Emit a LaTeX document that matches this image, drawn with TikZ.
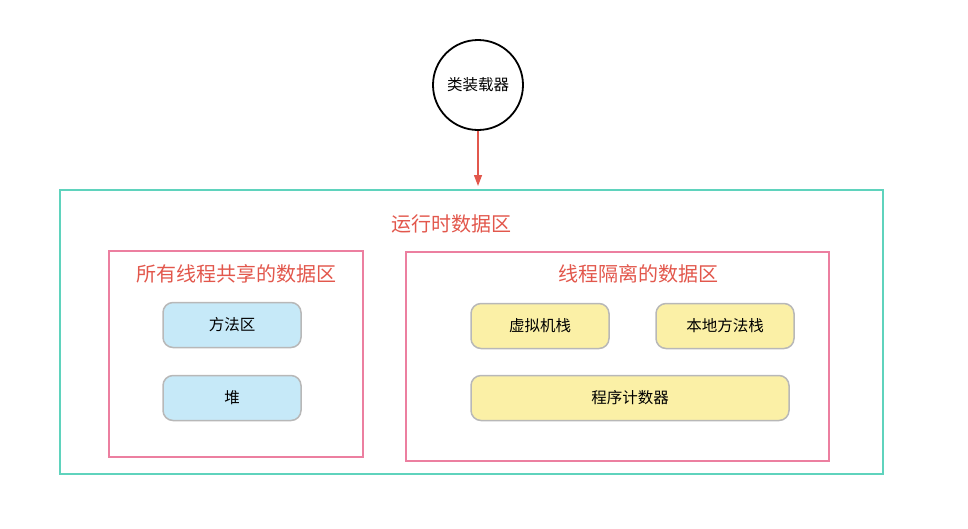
\documentclass[tikz,border=0pt]{standalone}
\usepackage{fontspec}
\newfontfamily\cjk{Noto Sans CJK SC}
\usetikzlibrary{arrows.meta}
\definecolor{teal1}{HTML}{5FD3BD}
\definecolor{pink1}{HTML}{EC7FA0}
\definecolor{red1}{HTML}{E2574C}
\definecolor{blue1}{HTML}{C6E9F8}
\definecolor{yel1}{HTML}{FBF0A6}
\definecolor{gray1}{HTML}{B8B8B8}
\tikzset{
 region/.style={draw=pink1,line width=1.5pt},
 pill/.style={draw=gray1,line width=1.5pt,rounded corners=10pt,font=\cjk\fontsize{15.5}{18}\selectfont},
 ttl/.style={text=red1,font=\cjk\fontsize{20}{23}\selectfont}
}
\begin{document}
\begin{tikzpicture}[x=1pt,y=-1pt]
\useasboundingbox (0,0) rectangle (968,528);
\node[circle,draw,line width=1.8pt,minimum size=90pt,font=\cjk\fontsize{15.5}{18}\selectfont] (cl) at (478,85) {类装载器};
\draw[teal1,line width=1.5pt] (60,190) rectangle (883,474);
\coordinate (top) at (478,186);
\draw[red1,line width=1.3pt,-{Triangle[length=11pt,width=8pt]}] (cl.south) -- (top);
\node[ttl] (t0) at (451,224) {运行时数据区};
\draw[region] (109,251) rectangle (363,457);
\node[ttl] (t1) at (236,274) {所有线程共享的数据区};
\draw[region] (406,252) rectangle (829,461);
\node[ttl] (t2) at (638,274) {线程隔离的数据区};
\node[pill,fill=blue1,minimum width=138pt,minimum height=45pt] (m) at (232,325) {方法区};
\node[pill,fill=blue1,minimum width=138pt,minimum height=45pt] (h) at (232,398) {堆};
\node[pill,fill=yel1,minimum width=138pt,minimum height=45pt] (v) at (540,326) {虚拟机栈};
\node[pill,fill=yel1,minimum width=138pt,minimum height=45pt] (n) at (725,326) {本地方法栈};
\node[pill,fill=yel1,minimum width=318pt,minimum height=45pt] (p) at (630,398) {程序计数器};
\end{tikzpicture}
\end{document}
